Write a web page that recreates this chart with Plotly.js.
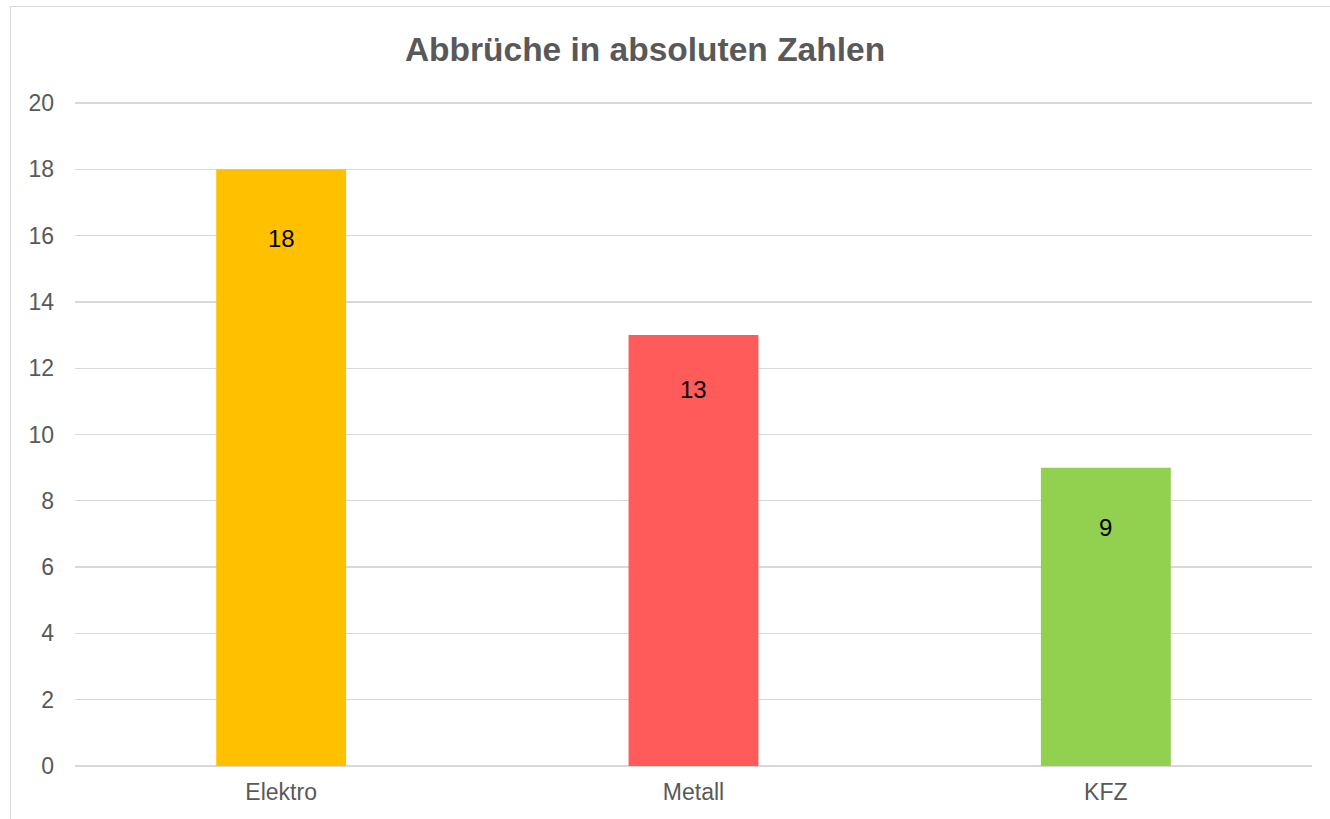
<!DOCTYPE html>
<html>
<head>
<meta charset="utf-8">
<script src="https://cdn.plot.ly/plotly-3.0.1.min.js"></script>
<style>
  html, body { margin: 0; padding: 0; background: #ffffff; overflow: hidden; }
  #frame { position: absolute; left: 10px; top: 6px; width: 1340px; height: 840px;
           border: 1.5px solid #d9d9d9; box-sizing: border-box; }
  #chart { position: absolute; left: 0; top: 0; width: 1330px; height: 819px; }
</style>
</head>
<body>
<div id="frame"></div>
<div id="chart"></div>
<script>
const categories = ["Elektro", "Metall", "KFZ"];
const values = [18, 13, 9];
const yTicks = [0, 2, 4, 6, 8, 10, 12, 14, 16, 18, 20];
const chartTitle = "Abbrüche in absoluten Zahlen";

const barColors = ["#FFC000", "#FF5B5B", "#92D050"];
const labelShifts = [-69, -54, -60];

const trace = {
  type: "bar",
  x: categories,
  y: values,
  width: 0.315,
  marker: { color: barColors, line: { width: 0 } },
  hoverinfo: "none"
};

const annotations = categories.map((c, i) => ({
  x: c, y: values[i], xref: "x", yref: "y",
  text: String(values[i]),
  showarrow: false,
  yshift: labelShifts[i],
  font: { family: "Liberation Sans, Arial, sans-serif", size: 24, color: "#000000" }
}));

const layout = {
  width: 1330, height: 819,
  margin: { l: 74.5, r: 18, t: 101, b: 53, pad: 0 },
  paper_bgcolor: "rgba(0,0,0,0)",
  plot_bgcolor: "rgba(0,0,0,0)",
  showlegend: false,
  title: {
    text: "<b>" + chartTitle + "</b>",
    x: 645 / 1330, xanchor: "center",
    y: 1 - 49 / 819, yanchor: "middle",
    font: { family: "Liberation Sans, Arial, sans-serif", size: 33.5, color: "#595959" }
  },
  xaxis: {
    type: "category",
    showgrid: false,
    showline: false,
    zeroline: false,
    ticks: "",
    tickfont: { family: "Liberation Sans, Arial, sans-serif", size: 23, color: "#595959" },
    ticklabelstandoff: 10
  },
  yaxis: {
    range: [0, 20.06],
    tickvals: yTicks,
    ticktext: yTicks.map(String),
    showgrid: true,
    gridcolor: "#d9d9d9",
    gridwidth: 1.3,
    zeroline: true,
    zerolinecolor: "#d9d9d9",
    zerolinewidth: 1.3,
    showline: false,
    ticks: "",
    ticklabelstandoff: 20,
    tickfont: { family: "Liberation Sans, Arial, sans-serif", size: 23, color: "#595959" }
  },
  annotations: annotations
};

Plotly.newPlot("chart", [trace], layout, { displayModeBar: false, staticPlot: true });
</script>
</body>
</html>
